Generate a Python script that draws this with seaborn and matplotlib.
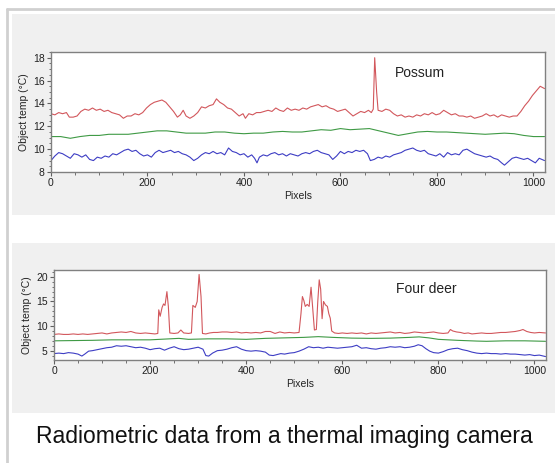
import matplotlib
matplotlib.use("Agg")
import matplotlib.pyplot as plt
from matplotlib.patches import Rectangle
from matplotlib.lines import Line2D
from matplotlib.ticker import MultipleLocator
import seaborn as sns
import pandas as pd

# ---------------- data ----------------
possum_red_x = [0, 8, 16, 24, 32, 38, 46, 54, 62, 70, 78, 86, 94, 102, 110, 118, 126, 134, 142, 150,
                158, 166, 174, 182, 190, 198, 206, 214, 222, 230, 238, 246, 254, 262, 268, 274, 280, 288,
                296, 304, 312, 320, 328, 336, 343, 350, 358, 366, 374, 382, 390, 398, 403, 410, 418, 426,
                434, 442, 450, 458, 466, 474, 482, 490, 498, 506, 514, 522, 530, 538, 546, 554, 562, 570,
                578, 586, 594, 602, 610, 618, 626, 634, 642, 650, 658, 664, 668, 671, 675, 678, 686, 694,
                702, 710, 718, 726, 734, 742, 750, 758, 766, 774, 782, 790, 798, 806, 814, 822, 830, 838,
                846, 854, 862, 870, 878, 886, 894, 902, 910, 918, 926, 934, 942, 950, 958, 966, 974, 982,
                990, 998, 1006, 1014, 1023]
possum_red = [13.1, 13.0, 13.2, 13.1, 13.2, 12.8, 12.8, 12.9, 13.3, 13.5, 13.4, 13.6, 13.4, 13.5, 13.3,
              13.4, 13.2, 13.1, 13.0, 12.7, 12.9, 12.9, 13.1, 13.0, 13.2, 13.6, 13.9, 14.1, 14.2, 14.3,
              14.1, 13.7, 13.3, 12.8, 13.0, 13.4, 12.9, 12.7, 12.9, 13.2, 13.7, 13.6, 13.8, 13.9, 14.4,
              14.1, 13.9, 13.6, 13.5, 13.2, 12.9, 13.1, 12.7, 13.1, 13.0, 13.2, 13.2, 13.3, 13.4, 13.3,
              13.6, 13.4, 13.3, 13.6, 13.4, 13.5, 13.4, 13.6, 13.5, 13.7, 13.8, 13.9, 13.7, 13.8, 13.6,
              13.5, 13.3, 13.4, 13.5, 13.2, 12.9, 13.1, 13.3, 13.2, 13.4, 13.2, 13.5, 18.0, 15.0, 13.4,
              13.3, 13.5, 13.4, 13.1, 12.9, 13.0, 12.8, 12.9, 12.8, 13.0, 12.9, 13.1, 13.0, 13.2, 13.0,
              13.1, 13.4, 13.2, 13.0, 13.1, 12.9, 12.9, 12.8, 12.9, 12.7, 12.8, 12.9, 13.1, 12.9, 13.0,
              12.8, 13.0, 12.9, 12.8, 12.9, 12.9, 13.3, 13.8, 14.2, 14.7, 15.1, 15.5, 15.3]

possum_green_x = [0, 20, 40, 60, 80, 100, 120, 140, 160, 180, 200, 220, 240, 260, 280, 300, 320, 340,
                  360, 380, 400, 420, 440, 460, 480, 500, 520, 540, 560, 580, 600, 620, 640, 660, 680,
                  700, 720, 740, 760, 780, 800, 820, 840, 860, 880, 900, 920, 940, 960, 980, 1000, 1023]
possum_green = [11.1, 11.1, 10.95, 11.1, 11.2, 11.2, 11.3, 11.3, 11.3, 11.4, 11.5, 11.6, 11.6, 11.5,
                11.4, 11.4, 11.4, 11.5, 11.5, 11.4, 11.35, 11.4, 11.4, 11.5, 11.55, 11.5, 11.5, 11.6,
                11.7, 11.65, 11.8, 11.7, 11.75, 11.8, 11.6, 11.4, 11.2, 11.35, 11.5, 11.55, 11.5, 11.5,
                11.45, 11.4, 11.35, 11.3, 11.35, 11.4, 11.35, 11.2, 11.1, 11.1]

possum_blue_x = [0, 8, 16, 24, 32, 40, 48, 56, 64, 72, 80, 88, 96, 104, 112, 120, 128, 136, 144, 152,
                 160, 168, 176, 184, 192, 200, 208, 216, 224, 232, 240, 248, 256, 264, 272, 280, 288,
                 296, 304, 312, 320, 328, 336, 344, 352, 360, 368, 376, 384, 392, 400, 408, 416, 422,
                 427, 432, 440, 448, 456, 464, 472, 480, 488, 496, 504, 512, 520, 528, 536, 544, 552,
                 560, 568, 576, 584, 592, 600, 608, 616, 624, 632, 640, 648, 656, 662, 670, 678, 686,
                 694, 702, 710, 718, 726, 734, 742, 750, 758, 766, 774, 782, 790, 798, 806, 814, 822,
                 830, 838, 846, 854, 862, 870, 878, 886, 894, 902, 910, 918, 926, 934, 940, 948, 956,
                 964, 972, 980, 988, 996, 1004, 1012, 1023]
possum_blue = [9.0, 9.4, 9.7, 9.6, 9.4, 9.2, 9.6, 9.5, 9.3, 9.5, 9.1, 9.0, 9.3, 9.2, 9.4, 9.3, 9.6,
               9.5, 9.7, 9.9, 10.0, 9.8, 9.9, 9.6, 9.4, 9.5, 9.3, 9.7, 9.9, 9.7, 9.8, 9.9, 9.7, 9.8,
               9.6, 9.5, 9.3, 9.0, 9.2, 9.5, 9.7, 9.6, 9.8, 9.6, 9.7, 9.5, 10.1, 9.8, 9.7, 9.5, 9.6,
               9.3, 9.5, 9.2, 8.8, 9.3, 9.5, 9.4, 9.6, 9.7, 9.5, 9.6, 9.4, 9.6, 9.5, 9.4, 9.6, 9.7,
               9.6, 9.8, 9.9, 9.7, 9.6, 9.5, 9.1, 9.4, 9.8, 9.6, 9.8, 9.7, 9.9, 9.8, 9.9, 9.6, 9.0,
               9.1, 9.3, 9.2, 9.4, 9.3, 9.5, 9.6, 9.7, 9.9, 10.0, 10.1, 9.9, 9.8, 9.9, 9.6, 9.5, 9.4,
               9.6, 9.3, 9.7, 9.5, 9.6, 9.5, 9.9, 10.0, 9.8, 9.6, 9.5, 9.4, 9.3, 9.4, 9.2, 9.1, 8.8,
               8.6, 8.9, 9.2, 9.3, 9.2, 9.1, 9.2, 9.0, 8.8, 9.2, 9.0]

deer_red_x = [0, 10, 20, 30, 40, 50, 60, 70, 80, 90, 100, 110, 120, 130, 140, 150, 160, 170, 180, 190,
              200, 210, 216, 218, 221, 225, 228, 231, 235, 238, 241, 250, 258, 264, 270, 280, 286, 289,
              294, 298, 302, 306, 309, 316, 324, 332, 340, 350, 360, 370, 380, 390, 400, 410, 420, 430,
              440, 450, 460, 470, 480, 490, 500, 510, 514, 517, 520, 523, 527, 531, 535, 539, 542, 546,
              549, 552, 555, 558, 561, 565, 569, 572, 575, 578, 584, 592, 600, 610, 620, 630, 640, 650,
              660, 670, 680, 690, 700, 710, 720, 730, 740, 750, 760, 770, 780, 790, 800, 810, 820, 825,
              830, 838, 846, 854, 862, 870, 880, 890, 900, 910, 920, 930, 940, 950, 960, 970, 976, 984,
              992, 1000, 1010, 1023]
deer_red = [8.3, 8.4, 8.3, 8.3, 8.4, 8.3, 8.4, 8.3, 8.4, 8.5, 8.6, 8.4, 8.6, 8.7, 8.8, 8.7, 8.9, 8.6,
            8.5, 8.6, 8.5, 8.4, 8.5, 13.3, 12.0, 13.8, 14.5, 14.2, 17.0, 14.0, 8.6, 8.5, 8.6, 9.2, 8.6,
            8.5, 8.6, 14.2, 13.8, 15.0, 20.5, 16.0, 8.5, 8.4, 8.6, 8.7, 8.7, 8.8, 8.8, 8.7, 8.8, 8.6,
            8.7, 8.6, 8.7, 8.6, 8.9, 8.9, 8.5, 8.8, 8.6, 8.7, 8.6, 8.7, 12.5, 16.0, 15.2, 14.0, 14.4,
            14.0, 17.9, 13.0, 9.2, 9.3, 15.0, 19.4, 17.5, 11.5, 15.0, 14.3, 14.0, 12.5, 11.6, 9.0, 8.6,
            8.5, 8.6, 8.5, 8.6, 8.5, 8.6, 8.4, 8.6, 8.5, 8.6, 8.7, 8.8, 8.6, 8.7, 8.5, 8.6, 8.8, 8.7,
            8.6, 8.7, 8.8, 8.6, 8.5, 8.6, 9.3, 9.0, 8.8, 8.7, 8.5, 8.6, 8.4, 8.5, 8.6, 8.5, 8.5, 8.6,
            8.7, 8.7, 8.8, 8.9, 9.1, 9.3, 8.9, 8.7, 8.6, 8.7, 8.6]

deer_green_x = [0, 40, 80, 120, 160, 200, 240, 260, 280, 320, 360, 400, 440, 480, 520, 550, 580, 620,
                660, 700, 740, 760, 780, 800, 840, 880, 900, 940, 980, 1023]
deer_green = [7.0, 7.05, 7.1, 7.2, 7.2, 7.2, 7.4, 7.5, 7.3, 7.4, 7.4, 7.3, 7.5, 7.6, 7.7, 7.85, 7.7,
              7.55, 7.5, 7.55, 7.7, 7.8, 7.6, 7.3, 7.1, 6.95, 6.9, 7.0, 7.0, 6.9]

deer_blue_x = [0, 10, 20, 30, 40, 50, 58, 64, 72, 80, 90, 100, 110, 120, 130, 140, 150, 160, 170, 180,
               190, 200, 210, 220, 230, 240, 250, 260, 270, 280, 290, 300, 310, 316, 322, 330, 340, 350,
               360, 370, 380, 390, 400, 410, 420, 430, 440, 448, 456, 464, 472, 480, 490, 500, 510, 520,
               530, 540, 550, 560, 570, 580, 590, 600, 610, 620, 630, 640, 650, 660, 670, 680, 690, 700,
               710, 720, 730, 740, 750, 758, 766, 774, 782, 790, 800, 810, 820, 830, 840, 850, 860, 870,
               880, 890, 900, 910, 920, 930, 940, 950, 960, 970, 980, 990, 1000, 1010, 1023]
deer_blue = [4.4, 4.5, 4.4, 4.6, 4.5, 4.3, 3.9, 4.3, 4.9, 5.0, 5.2, 5.4, 5.6, 5.7, 6.0, 5.9, 6.0, 5.8,
             5.6, 5.7, 5.5, 5.2, 5.4, 5.5, 5.1, 5.5, 5.8, 5.4, 5.2, 5.3, 5.5, 5.7, 5.3, 4.0, 3.9, 4.5,
             5.0, 5.1, 5.3, 5.6, 5.8, 5.3, 5.0, 4.9, 5.0, 4.9, 4.7, 4.1, 4.0, 4.2, 4.4, 4.3, 4.5, 4.6,
             4.9, 5.3, 5.8, 5.6, 5.7, 5.5, 5.7, 5.6, 5.5, 5.6, 5.7, 5.8, 6.1, 5.5, 5.6, 5.4, 5.3, 5.5,
             5.6, 5.8, 5.7, 5.8, 5.6, 5.7, 5.9, 6.2, 6.0, 5.4, 4.9, 4.6, 4.5, 4.8, 5.2, 5.4, 5.5, 5.2,
             5.0, 4.7, 4.5, 4.4, 4.5, 4.4, 4.4, 4.3, 4.4, 4.3, 4.3, 4.2, 4.1, 4.2, 4.0, 4.1, 3.8]

x_ticks = [0, 200, 400, 600, 800, 1000]
possum_yticks = [8, 10, 12, 14, 16, 18]
deer_yticks = [5, 10, 15, 20]
panel_titles = ["Possum", "Four deer"]
x_label = "Pixels"
y_label = "Object temp (°C)"
caption = "Radiometric data from a thermal imaging camera"

# ---------------- styling ----------------
sns.set_theme(style="white")
plt.rcParams["font.family"] = ["Liberation Sans", "DejaVu Sans"]

RED = "#d2575c"
GREEN = "#3f9a45"
BLUE = "#3d3dc4"
SPINE = "#808080"

fig = plt.figure(figsize=(5.55, 4.63), dpi=100)
fig.patch.set_facecolor("white")

# outer frame (left and top only) and grey panels (figure coordinates)
fig.add_artist(Line2D([7 / 555, 7 / 555], [0, 1 - 9 / 463], transform=fig.transFigure,
                      color="#d0d0d0", lw=2, zorder=0))
fig.add_artist(Line2D([7 / 555, 1], [1 - 9 / 463, 1 - 9 / 463], transform=fig.transFigure,
                      color="#d0d0d0", lw=2, zorder=0))
fig.add_artist(Rectangle((12 / 555, 1 - 215 / 463), 1, 201 / 463, transform=fig.transFigure,
                         facecolor="#f0f0f0", edgecolor="none", zorder=0))
fig.add_artist(Rectangle((12 / 555, 1 - 413 / 463), 1, 170 / 463, transform=fig.transFigure,
                         facecolor="#f0f0f0", edgecolor="none", zorder=0))


def style_axes(ax, yticks, ylim, yminor):
    ax.set_facecolor("white")
    ax.set_xlim(0, 1024)
    ax.set_ylim(*ylim)
    ax.set_xticks(x_ticks)
    ax.set_yticks(yticks)
    ax.xaxis.set_minor_locator(MultipleLocator(50))
    ax.yaxis.set_minor_locator(MultipleLocator(yminor))
    ax.tick_params(axis="both", which="major", direction="out", length=3, width=0.8,
                   color="#606060", labelsize=7.5, labelcolor="#222222", pad=1.5,
                   bottom=True, left=True)
    ax.tick_params(axis="both", which="minor", direction="out", length=1.8, width=0.7,
                   color="#707070", bottom=True, left=True)
    for s in ax.spines.values():
        s.set_color(SPINE)
        s.set_linewidth(1.0)
        s.set_visible(True)
    ax.set_xlabel(x_label, fontsize=7.5, color="#222222", labelpad=2)
    ax.set_ylabel(y_label, fontsize=7.5, color="#222222", labelpad=3)


# top panel
ax1 = fig.add_axes([51 / 555, 1 - 172 / 463, 494 / 555, 120 / 463])
df1 = pd.DataFrame({"x": possum_red_x, "y": possum_red})
sns.lineplot(data=df1, x="x", y="y", ax=ax1, color=RED, lw=0.8)
sns.lineplot(x=possum_green_x, y=possum_green, ax=ax1, color=GREEN, lw=0.8)
sns.lineplot(x=possum_blue_x, y=possum_blue, ax=ax1, color=BLUE, lw=0.8)
style_axes(ax1, possum_yticks, (8, 18.5), 0.5)
ax1.text(713, 16.7, panel_titles[0], fontsize=10, color="#222222", va="center", ha="left")

# bottom panel
ax2 = fig.add_axes([54 / 555, 1 - 360 / 463, 492 / 555, 90 / 463])
sns.lineplot(x=deer_red_x, y=deer_red, ax=ax2, color=RED, lw=0.8)
sns.lineplot(x=deer_green_x, y=deer_green, ax=ax2, color=GREEN, lw=0.8)
sns.lineplot(x=deer_blue_x, y=deer_blue, ax=ax2, color=BLUE, lw=0.8)
style_axes(ax2, deer_yticks, (3.1, 21.4), 1)
ax2.text(712, 17.6, panel_titles[1], fontsize=10, color="#222222", va="center", ha="left")

fig.text(0.512, 1 - 437 / 463, caption, fontsize=16.5, color="#111111", ha="center", va="center")

fig.savefig("out.png", dpi=100)
